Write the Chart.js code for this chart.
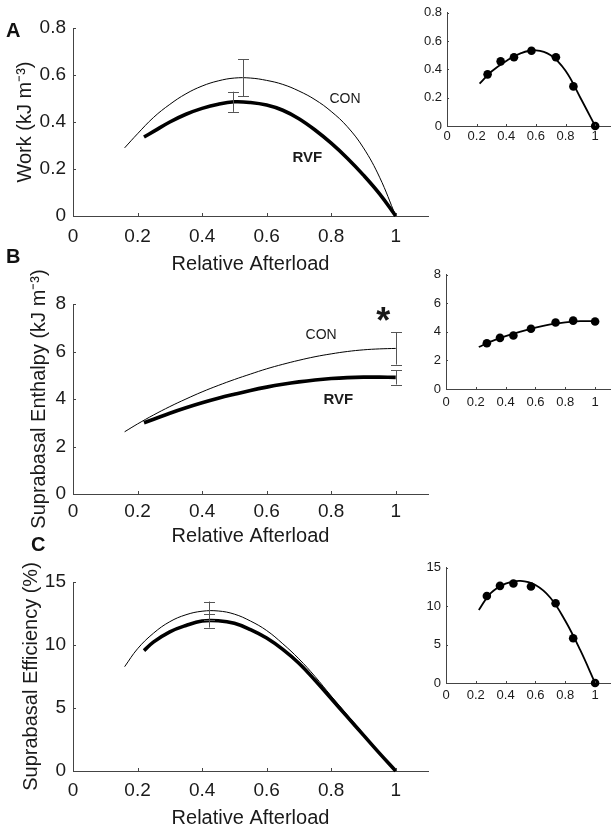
<!DOCTYPE html>
<html>
<head>
<meta charset="utf-8">
<script src="https://cdn.jsdelivr.net/npm/chart.js@4.4.0/dist/chart.umd.min.js"></script>
<style>
  html, body { margin: 0; padding: 0; background: #fff; }
  #fig { position: relative; width: 615px; height: 828px; overflow: hidden; font-family: "Liberation Sans", Arial, sans-serif; }
  #fig canvas { position: absolute; }
  .letter { position: absolute; font-weight: bold; font-size: 20px; line-height: 20px; color: #111; }
</style>
</head>
<body>
<div id="fig">
  <canvas id="workMain" width="440" height="290" style="left:0;top:0"></canvas>
  <canvas id="enthalpyMain" width="440" height="290" style="left:0;top:270px"></canvas>
  <canvas id="efficiencyMain" width="440" height="278" style="left:0;top:550px"></canvas>
  <canvas id="workInset" width="215" height="150" style="left:400px;top:0"></canvas>
  <canvas id="enthalpyInset" width="215" height="150" style="left:400px;top:262px"></canvas>
  <canvas id="efficiencyInset" width="215" height="150" style="left:400px;top:555px"></canvas>
  <div class="letter" style="left:6px;top:20px">A</div>
  <div class="letter" style="left:6px;top:246px">B</div>
  <div class="letter" style="left:31px;top:534px">C</div>
</div>
<script>
// shared x grid of the two fitted curves (relative afterload)
const afterloadTicks = [0, 0.2, 0.4, 0.6, 0.8, 1];
const conX = [0.16, 0.2, 0.25, 0.3, 0.35, 0.4, 0.45, 0.5, 0.55, 0.6, 0.65, 0.7, 0.75, 0.8, 0.85, 0.9, 0.95, 1.0];
const rvfX = [0.22, 0.25, 0.3, 0.35, 0.4, 0.45, 0.5, 0.55, 0.6, 0.65, 0.7, 0.75, 0.8, 0.85, 0.9, 0.95, 1.0];

// panel A - work
const workTicks = [0, 0.2, 0.4, 0.6, 0.8];
const workCon = [0.29, 0.35, 0.42, 0.475, 0.52, 0.553, 0.575, 0.587, 0.587, 0.577, 0.56, 0.532, 0.495, 0.445, 0.38, 0.29, 0.165, 0.0];
const workRvf = [0.336, 0.36, 0.40, 0.433, 0.458, 0.476, 0.486, 0.483, 0.472, 0.45, 0.414, 0.366, 0.31, 0.246, 0.174, 0.094, 0.0];
const workConErr = [0.527, 0.588, 0.078]; // x, mean, sd
const workRvfErr = [0.497, 0.486, 0.043];

// panel B - suprabasal enthalpy
const enthalpyTicks = [0, 2, 4, 6, 8];
const enthalpyCon = [2.62, 2.95, 3.33, 3.68, 4.0, 4.3, 4.57, 4.82, 5.05, 5.27, 5.46, 5.63, 5.78, 5.9, 6.0, 6.07, 6.11, 6.13];
const enthalpyRvf = [3.0, 3.15, 3.4, 3.63, 3.84, 4.03, 4.2, 4.36, 4.5, 4.62, 4.72, 4.8, 4.86, 4.9, 4.92, 4.92, 4.91];
const enthalpyConErr = [1.0, 6.13, 0.68];
const enthalpyRvfErr = [1.0, 4.91, 0.30];

// panel C - suprabasal efficiency
const efficiencyTicks = [0, 5, 10, 15];
const efficiencyCon = [8.28, 9.7, 10.95, 11.85, 12.4, 12.68, 12.7, 12.45, 11.9, 11.15, 10.1, 8.9, 7.5, 5.95, 4.45, 2.95, 1.45, 0];
const efficiencyRvf = [9.55, 10.25, 11.05, 11.55, 11.9, 11.92, 11.72, 11.22, 10.55, 9.65, 8.55, 7.2, 5.75, 4.3, 2.85, 1.4, 0];
const efficiencyConErr = [0.42, 12.7, 0.75];
const efficiencyRvfErr = [0.42, 11.93, 0.55];

// insets - single trabecula points and fitted curve
const insetX = [0.274, 0.362, 0.452, 0.570, 0.735, 0.853, 1.0];
const insetWork = [0.365, 0.457, 0.486, 0.532, 0.486, 0.28, 0.0];
const insetEnthalpy = [3.2, 3.58, 3.75, 4.22, 4.66, 4.79, 4.73];
const insetEfficiency = [11.33, 12.65, 12.95, 12.56, 10.38, 5.82, 0];
const fitX = [0.22, 0.3, 0.4, 0.5, 0.6, 0.7, 0.8, 0.9, 1.0];
const fitWork = [0.30, 0.385, 0.46, 0.515, 0.535, 0.50, 0.39, 0.20, 0.0];
const fitEnthalpy = [2.94, 3.32, 3.7, 4.02, 4.3, 4.52, 4.67, 4.75, 4.75];
const fitEfficiency = [9.5, 11.7, 12.95, 13.3, 12.75, 11.1, 8.1, 4.3, 0.0];

const FONT = '"Liberation Sans", Arial, sans-serif';
const AXIS = '#444';
const TEXT = '#1a1a1a';

const pts = (xs, ys) => xs.map((x, i) => ({ x, y: ys[i] }));
const fixTicks = (list) => (scale) => { scale.ticks = list.map((v) => ({ value: v })); };

// inward ticks, error bars and in-plot text
const extras = {
  id: 'extras',
  afterDatasetsDraw(chart, args, opts) {
    const { ctx, chartArea: area, scales: { x, y } } = chart;
    ctx.save();
    ctx.strokeStyle = AXIS;
    ctx.lineWidth = 1;
    ctx.beginPath();
    x.ticks.forEach((t) => {
      const px = Math.round(x.getPixelForValue(t.value)) + 0.5;
      ctx.moveTo(px, area.bottom);
      ctx.lineTo(px, area.bottom - opts.tick);
    });
    y.ticks.forEach((t) => {
      const py = Math.round(y.getPixelForValue(t.value)) + 0.5;
      ctx.moveTo(area.left, py);
      ctx.lineTo(area.left + opts.tick, py);
    });
    ctx.stroke();

    ctx.strokeStyle = '#555';
    (opts.errorBars || []).forEach(([ex, mean, sd]) => {
      const px = Math.round(x.getPixelForValue(ex)) + 0.5;
      const top = y.getPixelForValue(mean + sd);
      const bot = y.getPixelForValue(mean - sd);
      ctx.beginPath();
      ctx.moveTo(px, top); ctx.lineTo(px, bot);
      ctx.moveTo(px - 5.5, Math.round(top) + 0.5); ctx.lineTo(px + 5.5, Math.round(top) + 0.5);
      ctx.moveTo(px - 5.5, Math.round(bot) + 0.5); ctx.lineTo(px + 5.5, Math.round(bot) + 0.5);
      ctx.stroke();
    });

    ctx.fillStyle = TEXT;
    ctx.textAlign = 'center';
    ctx.textBaseline = 'middle';
    (opts.labels || []).forEach((l) => {
      ctx.font = l.font;
      ctx.fillText(l.text, x.getPixelForValue(l.x), y.getPixelForValue(l.y));
    });
    ctx.restore();
  }
};

function mainChart(id, cfg) {
  return new Chart(document.getElementById(id), {
    type: 'line',
    data: {
      datasets: [
        { data: pts(conX, cfg.con), borderColor: '#000', borderWidth: 1, pointRadius: 0, tension: 0.4, clip: false },
        { data: pts(rvfX, cfg.rvf), borderColor: '#000', borderWidth: 3.6, pointRadius: 0, tension: 0.4, clip: false }
      ]
    },
    options: {
      responsive: false,
      animation: false,
      layout: { padding: { top: cfg.top, right: 12, bottom: 0, left: 0 } },
      plugins: {
        legend: { display: false },
        tooltip: { enabled: false },
        extras: { tick: 3, errorBars: cfg.errorBars, labels: cfg.labels || [] }
      },
      scales: {
        x: {
          type: 'linear', min: 0, max: 1.1,
          afterBuildTicks: fixTicks(afterloadTicks),
          afterFit: (s) => { s.height = cfg.xHeight; },
          grid: { display: false, drawTicks: false },
          border: { display: true, color: AXIS, width: 1 },
          ticks: { padding: cfg.xPad, color: TEXT, font: { family: FONT, size: 19 }, callback: (v) => String(v) },
          title: { display: true, text: 'Relative Afterload', color: TEXT, font: { family: FONT, size: 20, lineHeight: 1 }, padding: { top: 0, bottom: cfg.xTitlePad } }
        },
        y: {
          type: 'linear', min: cfg.yTicks[0], max: cfg.yTicks[cfg.yTicks.length - 1],
          afterBuildTicks: fixTicks(cfg.yTicks),
          afterFit: (s) => { s.width = 73; },
          grid: { display: false, drawTicks: false },
          border: { display: true, color: AXIS, width: 1 },
          ticks: { padding: 7, color: TEXT, font: { family: FONT, size: 19 }, callback: (v) => String(v) },
          title: { display: true, text: cfg.yTitle, color: TEXT, font: { family: FONT, size: 20, lineHeight: 1 }, padding: { top: cfg.yTitlePad, bottom: 0 } }
        }
      }
    },
    plugins: [extras]
  });
}

function insetChart(id, cfg) {
  return new Chart(document.getElementById(id), {
    type: 'line',
    data: {
      datasets: [
        { data: pts(fitX, cfg.fit), borderColor: '#000', borderWidth: 1.8, pointRadius: 0, tension: 0.4, clip: false },
        { data: pts(insetX, cfg.points), showLine: false, pointRadius: 4.3, pointBackgroundColor: '#000', pointBorderColor: '#000', pointBorderWidth: 0, clip: false }
      ]
    },
    options: {
      responsive: false,
      animation: false,
      layout: { padding: { top: cfg.top, right: 5, bottom: 0, left: 0 } },
      plugins: { legend: { display: false }, tooltip: { enabled: false }, extras: { tick: 2 } },
      scales: {
        x: {
          type: 'linear', min: 0, max: 1.1,
          afterBuildTicks: fixTicks(afterloadTicks),
          afterFit: (s) => { s.height = cfg.xHeight; },
          grid: { display: false, drawTicks: false },
          border: { display: true, color: AXIS, width: 1 },
          ticks: { padding: cfg.xPad, color: TEXT, font: { family: FONT, size: 13 }, callback: (v) => String(v) }
        },
        y: {
          type: 'linear', min: cfg.yTicks[0], max: cfg.yTicks[cfg.yTicks.length - 1],
          afterBuildTicks: fixTicks(cfg.yTicks),
          afterFit: (s) => { s.width = cfg.yWidth; },
          grid: { display: false, drawTicks: false },
          border: { display: true, color: AXIS, width: 1 },
          ticks: { padding: 5, color: TEXT, font: { family: FONT, size: 13 }, callback: (v) => String(v) }
        }
      }
    },
    plugins: [extras]
  });
}

mainChart('workMain', {
  con: workCon, rvf: workRvf, yTicks: workTicks, yTitle: 'Work (kJ m\u207B\u00B3)',
  top: 28, xHeight: 74, xPad: 9, xTitlePad: 16, yTitlePad: 15,
  errorBars: [workConErr, workRvfErr],
  labels: [
    { text: 'CON', x: 0.843, y: 0.498, font: '14px ' + FONT },
    { text: 'RVF', x: 0.726, y: 0.247, font: 'bold 15px ' + FONT }
  ]
});

mainChart('enthalpyMain', {
  con: enthalpyCon, rvf: enthalpyRvf, yTicks: enthalpyTicks, yTitle: 'Suprabasal Enthalpy (kJ m\u207B\u00B3)',
  top: 34, xHeight: 66, xPad: 6, xTitlePad: 14, yTitlePad: 29,
  errorBars: [enthalpyConErr, enthalpyRvfErr],
  labels: [
    { text: 'CON', x: 0.769, y: 6.69, font: '14px ' + FONT },
    { text: 'RVF', x: 0.822, y: 3.96, font: 'bold 15px ' + FONT },
    { text: '*', x: 0.961, y: 7.2, font: 'bold 36px ' + FONT }
  ]
});

mainChart('efficiencyMain', {
  con: efficiencyCon, rvf: efficiencyRvf, yTicks: efficiencyTicks, yTitle: 'Suprabasal Efficiency (%)',
  top: 32, xHeight: 57, xPad: 8, xTitlePad: 0, yTitlePad: 21,
  errorBars: [efficiencyConErr, efficiencyRvfErr]
});

insetChart('workInset', { fit: fitWork, points: insetWork, yTicks: workTicks, top: 9, xHeight: 24, xPad: 3, yWidth: 47 });
insetChart('enthalpyInset', { fit: fitEnthalpy, points: insetEnthalpy, yTicks: enthalpyTicks, top: 11, xHeight: 23, xPad: 6, yWidth: 46 });
insetChart('efficiencyInset', { fit: fitEfficiency, points: insetEfficiency, yTicks: efficiencyTicks, top: 11, xHeight: 22, xPad: 5, yWidth: 46 });
</script>
</body>
</html>
